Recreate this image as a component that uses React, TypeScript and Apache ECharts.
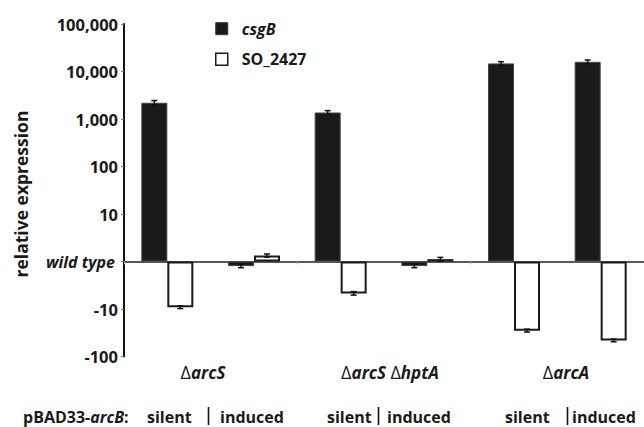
import React, { useEffect, useRef } from "react";
import * as echarts from "echarts";

const categories = [
  "ΔarcS silent",
  "ΔarcS induced",
  "ΔarcS ΔhptA silent",
  "ΔarcS ΔhptA induced",
  "ΔarcA silent",
  "ΔarcA induced",
];
const csgB = [2200, -1.25, 1370, -1.25, 14800, 16000];
const csgBErr = [250, 0.1, 130, 0.1, 1300, 1500];
const so2427 = [-9.2, 1.34, -4.7, 1.12, -28.6, -46];
const so2427Err = [0.6, 0.1, 0.4, 0.1, 2, 3];
const yTickLabels = ["-100", "-10", "wild type", "10", "100", "1,000", "10,000", "100,000"];
const groupLabels = ["ΔarcS", "ΔarcS ΔhptA", "ΔarcA"];

const FONT = "'Open Sans', 'DejaVu Sans', sans-serif";
const INK = "#1a1a1a";

// symmetric log transform: 1 -> 0 (wild type), -10 -> -1, 10 -> 1
const f = (v: number) => (v >= 0 ? Math.log10(v) : -Math.log10(-v));

const errRows = (vals: number[], errs: number[]) =>
  vals.map((v, i) => [i, f(v - Math.sign(v) * errs[i]), f(v + Math.sign(v) * errs[i])]);

const makeErrSeries = (name: string, vals: number[], errs: number[], offset: number) => ({
  type: "custom",
  name: name + " err",
  silent: true,
  z: 5,
  data: errRows(vals, errs),
  encode: { x: 0, y: [1, 2] },
  renderItem: (params: any, api: any) => {
    const idx = api.value(0);
    const a = api.coord([idx, api.value(1)]);
    const b = api.coord([idx, api.value(2)]);
    const x = a[0] + offset;
    const w = 3;
    const st = { stroke: "#111", lineWidth: 1.5 };
    return {
      type: "group",
      children: [
        { type: "line", shape: { x1: x, y1: a[1], x2: x, y2: b[1] }, style: st },
        { type: "line", shape: { x1: x - w, y1: a[1], x2: x + w, y2: a[1] }, style: st },
        { type: "line", shape: { x1: x - w, y1: b[1], x2: x + w, y2: b[1] }, style: st },
      ],
    };
  },
});

const boldText = { fontFamily: FONT, fontWeight: "bold" as const, fontSize: 16, lineHeight: 16, fill: INK };

export default function App() {
  const ref = useRef<HTMLDivElement>(null);
  useEffect(() => {
    if (!ref.current) return;
    const chart = echarts.init(ref.current, undefined, { renderer: "svg" });
    const groupCenters = [203, 390, 566];
    const graphics: any[] = [
      {
        type: "text",
        x: 21,
        y: 194,
        rotation: Math.PI / 2,
        style: {
          text: "relative expression",
          ...boldText,
          fontSize: 17.5,
          lineHeight: 18,
          align: "center",
          verticalAlign: "middle",
        },
      },
      ...groupLabels.map((g, i) => ({
        type: "text",
        x: groupCenters[i],
        y: 372,
        style: {
          text: g
            .split(" ")
            .map((p) => "{d|Δ}{i|" + p.replace("Δ", "") + "}")
            .join("{s| }"),
          align: "center",
          verticalAlign: "middle",
          rich: {
            d: { ...boldText, fontSize: 18, lineHeight: 18, fontWeight: "normal" },
            i: { ...boldText, fontSize: 17, lineHeight: 18, fontStyle: "italic" },
            s: { ...boldText, fontSize: 17, lineHeight: 18 },
          },
        },
      })),
      {
        type: "text",
        x: 23,
        y: 417,
        style: {
          text: "{n|pBAD33-}{i|arcB}{n|:}",
          align: "left",
          verticalAlign: "middle",
          rich: {
            n: { ...boldText },
            i: { ...boldText, fontStyle: "italic" },
          },
        },
      },
    ];
    const silentX = [147, 327, 505];
    const barX = [208, 378, 567];
    const inducedX = [220, 387, 572];
    for (let i = 0; i < 3; i++) {
      graphics.push(
        { type: "text", x: silentX[i], y: 417, style: { text: "silent", ...boldText, align: "left", verticalAlign: "middle" } },
        {
          type: "line",
          shape: { x1: barX[i] + 0.5, y1: 407, x2: barX[i] + 0.5, y2: 425 },
          style: { stroke: "#111", lineWidth: 1.6 },
        },
        { type: "text", x: inducedX[i], y: 417, style: { text: "induced", ...boldText, align: "left", verticalAlign: "middle" } }
      );
    }

    chart.setOption({
      animation: false,
      backgroundColor: "#ffffff",
      textStyle: { fontFamily: FONT },
      grid: { left: 124, top: 24, width: 528, height: 332.5, containLabel: false },
      legend: {
        orient: "vertical",
        left: 210,
        top: 15.7,
        itemWidth: 12,
        itemHeight: 12,
        itemGap: 14.5,
        icon: "rect",
        selectedMode: false,
        data: [
          { name: "csgB", itemStyle: { color: INK, borderColor: "#333", borderWidth: 1 } },
          { name: "SO_2427", itemStyle: { color: "#fff", borderColor: INK, borderWidth: 1.5 } },
        ],
        formatter: (name: string) => (name === "csgB" ? "{i|csgB}" : "{b|SO_2427}"),
        textStyle: {
          fontFamily: FONT,
          fontWeight: "bold",
          fontSize: 16,
          lineHeight: 16,
          color: INK,
          padding: [0, 0, 0, 9],
          rich: {
            i: { fontFamily: FONT, fontWeight: "bold", fontStyle: "italic", fontSize: 16, lineHeight: 16, color: INK },
            b: { fontFamily: FONT, fontWeight: "bold", fontSize: 16, lineHeight: 16, color: INK },
          },
        },
      },
      xAxis: {
        type: "category",
        data: categories,
        axisLine: { onZero: true, lineStyle: { color: "#222", width: 1.5 } },
        axisTick: { show: true, length: 3, lineStyle: { color: "#aaa", width: 1 } },
        axisLabel: { show: false },
        splitLine: { show: false },
      },
      yAxis: {
        type: "value",
        min: -2,
        max: 5,
        interval: 1,
        axisLine: { show: true, lineStyle: { color: "#111", width: 2 } },
        axisTick: { show: true, length: 3, lineStyle: { color: "#777", width: 1 } },
        splitLine: { show: false },
        axisLabel: {
          margin: 6,
          fontFamily: FONT,
          fontWeight: "bold",
          fontSize: 16.5,
          color: INK,
          formatter: (v: number) => {
            const lbl = yTickLabels[Math.round(v) + 2];
            return lbl === "wild type" ? "{w|wild type}" : lbl;
          },
          rich: {
            w: { fontFamily: FONT, fontWeight: "bold", fontStyle: "italic", fontSize: 16, color: INK, padding: [0, 3, 0, 0] },
          },
        },
      },
      series: [
        {
          type: "bar",
          name: "csgB",
          data: csgB.map(f),
          barWidth: 26,
          barGap: "0%",
          itemStyle: { color: INK, borderColor: "#444", borderWidth: 1 },
          z: 3,
        },
        {
          type: "bar",
          name: "SO_2427",
          data: so2427.map(f),
          barWidth: 26,
          barGap: "0%",
          itemStyle: { color: "#fff", borderColor: INK, borderWidth: 2 },
          z: 3,
        },
        makeErrSeries("csgB", csgB, csgBErr, -13),
        makeErrSeries("SO_2427", so2427, so2427Err, 13),
      ],
      graphic: graphics,
    });
    return () => chart.dispose();
  }, []);
  return (
    <div
      ref={ref}
      style={{ position: "fixed", left: 0, top: 0, width: 644, height: 427 }}
    />
  );
}
